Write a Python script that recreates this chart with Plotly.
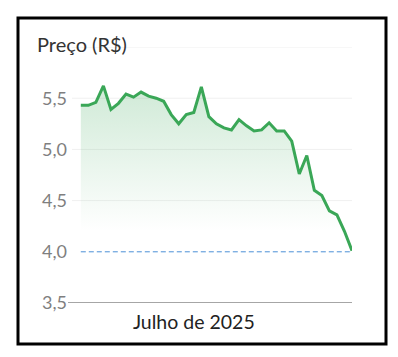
import plotly.graph_objects as go

days = list(range(37))
prices = [5.43, 5.43, 5.46, 5.62, 5.39, 5.45, 5.54, 5.51, 5.56, 5.52, 5.50, 5.47,
          5.34, 5.25, 5.34, 5.36, 5.61, 5.32, 5.25, 5.21, 5.19, 5.29, 5.23, 5.18,
          5.19, 5.26, 5.18, 5.18, 5.08, 4.76, 4.94, 4.60, 4.55, 4.40, 4.36, 4.20, 4.01]
y_ticks = [3.5, 4.0, 4.5, 5.0, 5.5]
grid_levels = [4.5, 5.0, 5.5, 6.0]
ref_level = 4.0
x_tick_pos = [15]
x_tick_text = ["Julho de 2025"]

W, H = 398, 357
ml, mr, mt, mb = 68, 46, 47, 54
pw, ph = W - ml - mr, H - mt - mb

def px_x(p):
    return (p - ml) / pw

def px_y(p):
    return (H - mb - p) / ph

green = "#3aa757"

fig = go.Figure()
fig.add_trace(go.Scatter(
    x=days, y=prices, mode="lines",
    line=dict(color=green, width=3),
    fill="tozeroy",
    fillgradient=dict(type="vertical", start=4.2, stop=5.5,
                      colorscale=[[0, "rgba(58,167,87,0.0)"], [1, "rgba(58,167,87,0.22)"]]),
    hoverinfo="skip", showlegend=False,
))

shapes = []
for g in grid_levels:
    shapes.append(dict(type="line", xref="paper", yref="y", x0=px_x(72), x1=1, y0=g, y1=g,
                       line=dict(color="#f0f0f0", width=1), layer="below"))
shapes.append(dict(type="line", xref="x", yref="y", x0=days[0], x1=days[-1], y0=ref_level, y1=ref_level,
                   line=dict(color="#4a8fd6", width=1, dash="5px,3px")))
shapes.append(dict(type="line", xref="paper", yref="y", x0=0, x1=1, y0=3.5, y1=3.5,
                   line=dict(color="#a6a6a6", width=2)))
shapes.append(dict(type="rect", xref="paper", yref="paper",
                   x0=px_x(18), x1=px_x(386), y0=px_y(344), y1=px_y(18),
                   line=dict(color="black", width=3)))

fig.update_layout(
    width=W, height=H,
    margin=dict(l=ml, r=mr, t=mt, b=mb, autoexpand=False),
    paper_bgcolor="white", plot_bgcolor="white",
    separators=",.",
    shapes=shapes,
    xaxis=dict(range=[-1.7, 36], showgrid=False, zeroline=False, showline=False,
               tickvals=x_tick_pos, ticktext=x_tick_text, ticks="", ticklabelstandoff=5,
               tickfont=dict(family="Lato", size=19.5, color="#222222")),
    yaxis=dict(range=[3.5, 6.0], showgrid=False, zeroline=False, showline=False,
               tickvals=y_ticks, tickformat=".1f", ticks="",
               tickfont=dict(family="Lato", size=18, color="#7f7f7f")),
    annotations=[dict(text="Preço (R$)", xref="paper", yref="paper",
                      x=px_x(35), y=px_y(44), xanchor="left", yanchor="middle",
                      showarrow=False, font=dict(family="Lato", size=20, color="#333333"))],
)

fig.write_html("out.html", config={"displayModeBar": False},
               post_script="document.body.style.margin='0px';")
